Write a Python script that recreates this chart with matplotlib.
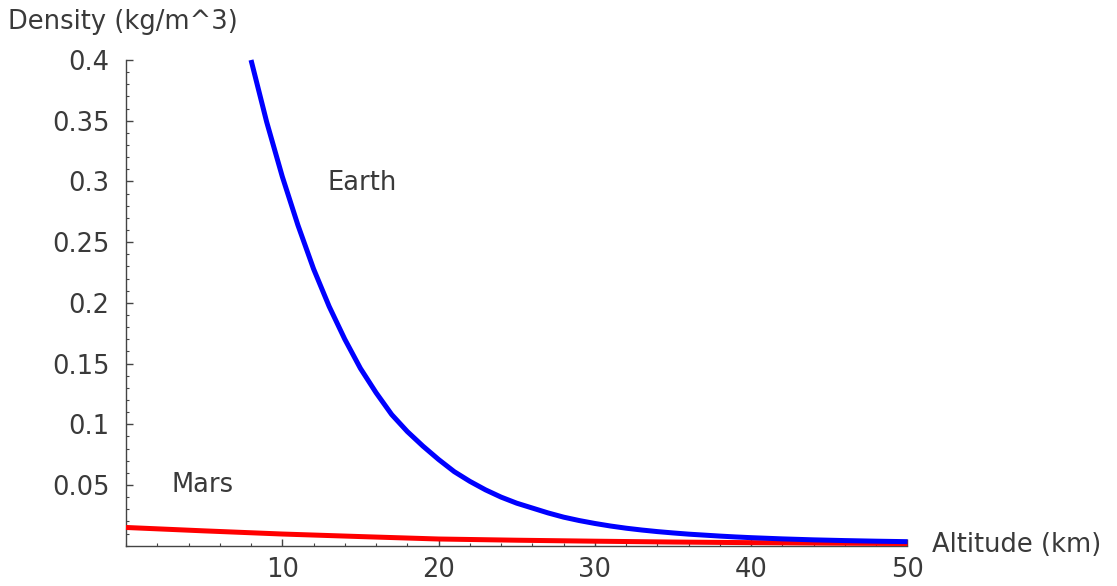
import matplotlib

matplotlib.use("Agg")

import matplotlib.pyplot as plt
from matplotlib.ticker import MultipleLocator, FixedLocator

# altitude (km) and density (kg/m^3)
earth_alt = [8, 9, 10, 11, 12, 13, 14, 15, 16, 17, 18, 19, 20, 21, 22, 23, 24,
             25, 26, 27, 28, 29, 30, 31, 32, 33, 34, 35, 36, 37, 38, 39, 40,
             42, 44, 46, 48, 50]
earth_rho = [0.400, 0.349, 0.304, 0.264, 0.228, 0.197, 0.170, 0.146, 0.126,
             0.108, 0.094, 0.082, 0.071, 0.061, 0.053, 0.046, 0.040, 0.035,
             0.031, 0.027, 0.0235, 0.0207, 0.0183, 0.0162, 0.0144, 0.0129,
             0.0116, 0.0105, 0.0095, 0.0087, 0.0079, 0.0072, 0.0066, 0.0056,
             0.0048, 0.0042, 0.0037, 0.0033]

mars_alt = [0, 5, 10, 15, 20, 25, 30, 35, 40, 45, 50]
mars_rho = [0.0150, 0.0122, 0.0096, 0.0075, 0.0055, 0.0045, 0.0037, 0.0030,
            0.0025, 0.0021, 0.0018]

x_major = [10, 20, 30, 40, 50]
y_major = [0.05, 0.1, 0.15, 0.2, 0.25, 0.3, 0.35, 0.4]
y_labels = ["0.05", "0.1", "0.15", "0.2", "0.25", "0.3", "0.35", "0.4"]

text_color = "#3a3a3a"
font = "DejaVu Sans"
fsize = 18.5

fig = plt.figure(figsize=(11.17, 5.86), dpi=100)
ax = fig.add_axes([0.1128, 0.0688, 0.6996, 0.8288])

ax.plot(mars_alt, mars_rho, color="#ff0000", linewidth=3.6,
        solid_capstyle="butt", clip_on=False, zorder=3)
ax.plot(earth_alt, earth_rho, color="#0000ff", linewidth=3.6,
        solid_capstyle="butt", clip_on=False, zorder=4)

ax.set_xlim(0, 50)
ax.set_ylim(0, 0.4)

for side in ("top", "right"):
    ax.spines[side].set_visible(False)
for side in ("left", "bottom"):
    ax.spines[side].set_color("#444444")
    ax.spines[side].set_linewidth(1.0)

ax.xaxis.set_major_locator(FixedLocator(x_major))
ax.xaxis.set_minor_locator(MultipleLocator(2))
ax.yaxis.set_major_locator(FixedLocator(y_major))
ax.set_yticklabels(y_labels)
ax.yaxis.set_minor_locator(MultipleLocator(0.01))

ax.tick_params(which="major", direction="in", length=5, width=1.0,
               color="#444444", labelsize=fsize, labelcolor=text_color)
ax.tick_params(which="minor", direction="in", length=2.5, width=0.8,
               color="#444444")
ax.tick_params(axis="x", which="major", pad=8)
ax.tick_params(axis="y", which="major", pad=12)
for lbl in ax.get_xticklabels() + ax.get_yticklabels():
    lbl.set_family(font)

ax.text(12.9, 0.299, "Earth", fontsize=fsize, color=text_color, family=font,
        ha="left", va="center")
ax.text(2.94, 0.05, "Mars", fontsize=fsize, color=text_color, family=font,
        ha="left", va="center")

fig.text(8 / 1117, 1 - 22 / 586, "Density (kg/m^3)", fontsize=fsize,
         color=text_color, family=font, ha="left", va="center")
fig.text(932 / 1117, 1 - 545 / 586, "Altitude (km)", fontsize=fsize,
         color=text_color, family=font, ha="left", va="center")

fig.savefig("out.png", dpi=100, facecolor="white")
